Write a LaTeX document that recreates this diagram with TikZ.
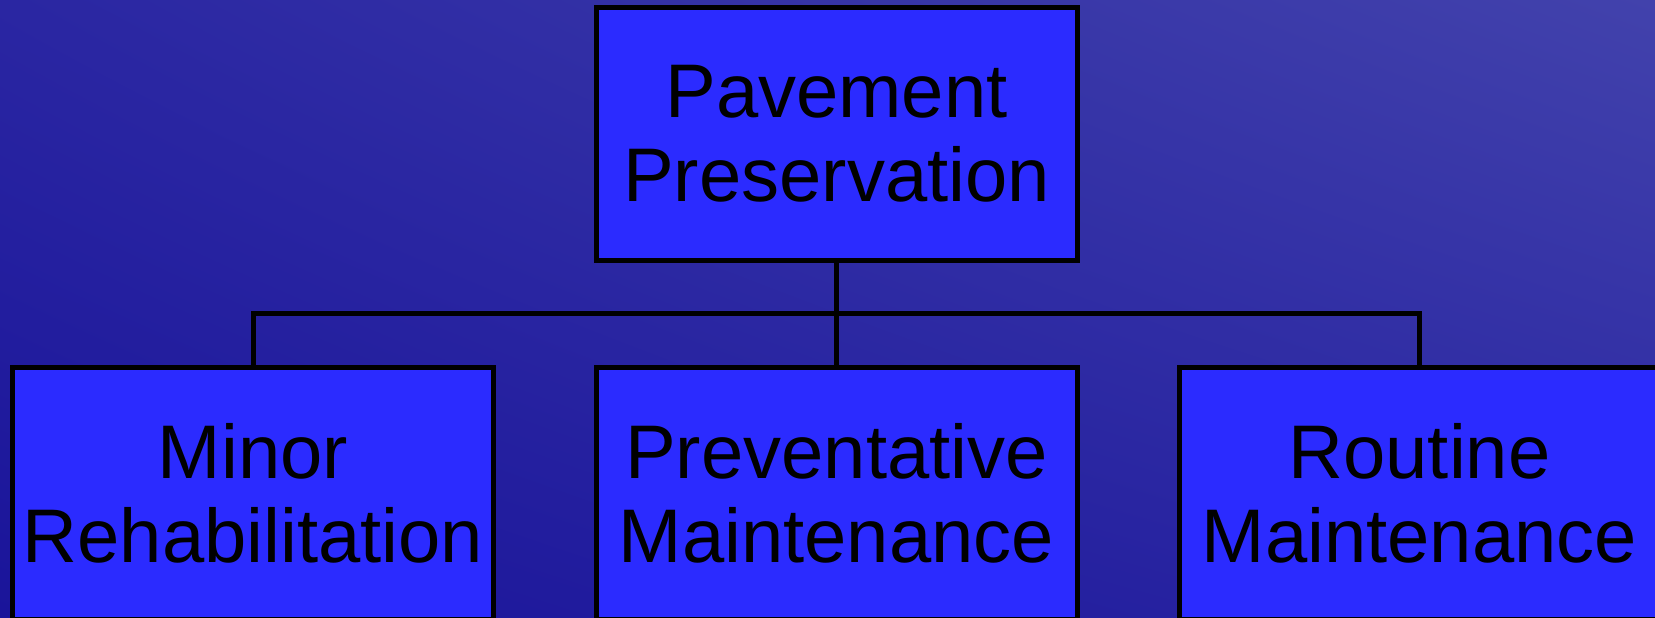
\documentclass[tikz,border=0pt]{standalone}
\usepackage{fontspec}
\setmainfont{Liberation Sans}
\usetikzlibrary{positioning,shadings}

\definecolor{boxblue}{RGB}{43,43,255}
\definecolor{bgdark}{RGB}{26,20,154}
\definecolor{bgmid}{RGB}{42,38,162}
\definecolor{bglight}{RGB}{66,66,172}

\tikzset{
    pbox/.style={draw=black, line width=5pt, fill=boxblue, inner sep=0pt,
        minimum width=481pt, minimum height=252pt, align=center,
        font=\fontsize{76}{84}\selectfont},
    link/.style={draw=black, line width=5pt}
}

\begin{document}
\begin{tikzpicture}[x=1pt, y=-1pt]

    % Background
    \useasboundingbox (0,0) rectangle (1655,618);
    \shade[upper left=bgmid, upper right=bglight, lower left=bgdark, lower right=bgmid]
        (0,0) rectangle (1655,618);

    % Top box
    \node[pbox] (pres) at (836.5,134) {Pavement\\Preservation};

    % Bottom boxes
    \node[pbox] (minor) at (253,493) {Minor\\Rehabilitation};
    \node[pbox] (prev) at (836.5,493) {Preventative\\Maintenance};
    \node[pbox] (routine) at (1419.5,493) {Routine\\Maintenance};

    % Connectors
    \coordinate (bus) at (836.5,313);
    \draw[link] (pres.south) -- (prev.north);
    \draw[link] (minor.north) |- (bus) -| (routine.north);

\end{tikzpicture}
\end{document}
